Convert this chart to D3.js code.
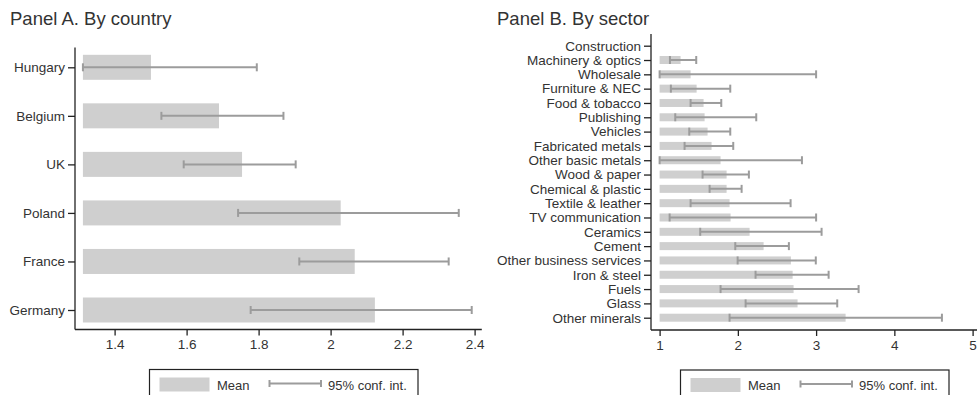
<!DOCTYPE html>
<html>
<head>
<meta charset="utf-8">
<script src="https://cdn.jsdelivr.net/npm/d3@7"></script>
<style>
  html, body { margin: 0; padding: 0; background: #fff; }
  svg { display: block; font-family: "Liberation Sans", Arial, Helvetica, sans-serif; }
</style>
</head>
<body>
<svg id="chart" width="977" height="395"></svg>
<script>
// Panel A: mean and 95% confidence interval by country
const countries = ["Hungary", "Belgium", "UK", "Poland", "France", "Germany"];
const countryMean = [1.501, 1.690, 1.754, 2.028, 2.067, 2.123];
const countryLow  = [1.312, 1.530, 1.592, 1.743, 1.913, 1.778];
const countryHigh = [1.795, 1.869, 1.903, 2.356, 2.328, 2.392];
const countryTicks = [1.4, 1.6, 1.8, 2, 2.2, 2.4];

// Panel B: mean and 95% confidence interval by sector (Construction has no estimate)
const sectors = ["Construction", "Machinery & optics", "Wholesale", "Furniture & NEC",
  "Food & tobacco", "Publishing", "Vehicles", "Fabricated metals", "Other basic metals",
  "Wood & paper", "Chemical & plastic", "Textile & leather", "TV communication",
  "Ceramics", "Cement", "Other business services", "Iron & steel", "Fuels", "Glass",
  "Other minerals"];
const sectorMean = [null, 1.268, 1.396, 1.473, 1.562, 1.575, 1.613, 1.664, 1.779,
  1.856, 1.856, 1.894, 1.907, 2.150, 2.329, 2.678, 2.700, 2.712, 2.763, 3.377];
const sectorLow  = [null, 1.132, 1.000, 1.144, 1.396, 1.200, 1.379, 1.319, 1.000,
  1.549, 1.639, 1.396, 1.128, 1.519, 1.967, 1.997, 2.226, 1.779, 2.099, 1.894];
const sectorHigh = [null, 1.468, 3.000, 1.903, 1.788, 2.235, 1.903, 1.941, 2.819,
  2.141, 2.048, 2.674, 3.000, 3.070, 2.652, 2.996, 3.160, 3.543, 3.270, 4.608];
const sectorTicks = [1, 2, 3, 4, 5];

const legendLabels = ["Mean", "95% conf. int."];

const barColor = "#cfcfcf";
const ciColor = "#9c9c9c";
const axisColor = "#222";
const textColor = "#333";

const svg = d3.select("#chart");

function drawPanel(opts) {
  const g = svg.append("g");
  const x = d3.scaleLinear().domain(opts.xDomain).range(opts.xRange);
  const y = d3.scalePoint().domain(opts.cats).range(opts.yRange);

  const rows = opts.cats.map((c, i) => ({
    cat: c, mean: opts.mean[i], lo: opts.low[i], hi: opts.high[i]
  }));
  const valid = rows.filter(d => d.mean != null);

  // title
  g.append("text")
    .attr("x", opts.titleX).attr("y", 25)
    .attr("font-size", 18.5).attr("fill", textColor)
    .text(opts.title);

  // bars from the base value to the mean
  g.append("g").selectAll("rect").data(valid).join("rect")
    .attr("x", x(opts.base))
    .attr("y", d => y(d.cat) - opts.barH / 2)
    .attr("width", d => x(d.mean) - x(opts.base))
    .attr("height", opts.barH)
    .attr("fill", barColor);

  // confidence intervals
  const ci = g.append("g").attr("stroke", ciColor).attr("stroke-width", 2).attr("fill", "none");
  ci.selectAll("line.span").data(valid).join("line")
    .attr("class", "span")
    .attr("x1", d => x(d.lo)).attr("x2", d => x(d.hi))
    .attr("y1", d => y(d.cat)).attr("y2", d => y(d.cat));
  ["lo", "hi"].forEach(k => {
    ci.selectAll("line.cap-" + k).data(valid).join("line")
      .attr("class", "cap-" + k)
      .attr("x1", d => x(d[k])).attr("x2", d => x(d[k]))
      .attr("y1", d => y(d.cat) - opts.capH / 2)
      .attr("y2", d => y(d.cat) + opts.capH / 2);
  });

  // y axis
  const yAxis = g.append("g")
    .attr("transform", `translate(${opts.xRange[0]},0)`)
    .call(d3.axisLeft(y).tickSize(7).tickPadding(3));
  yAxis.select(".domain").remove();
  yAxis.append("line")
    .attr("x1", 0).attr("x2", 0)
    .attr("y1", opts.axisTop).attr("y2", opts.axisBottom)
    .attr("stroke", axisColor).attr("stroke-width", 1.3);
  yAxis.selectAll(".tick line").attr("stroke", axisColor).attr("stroke-width", 1.3);
  yAxis.selectAll(".tick text")
    .attr("font-size", 13.5).attr("fill", textColor)
    .attr("font-family", "Liberation Sans, Arial, sans-serif");

  // x axis
  const xAxis = g.append("g")
    .attr("transform", `translate(0,${opts.axisBottom})`)
    .call(d3.axisBottom(x).tickValues(opts.ticks).tickFormat(d3.format("")).tickSize(6).tickPadding(4));
  xAxis.select(".domain").remove();
  xAxis.append("line")
    .attr("x1", opts.xRange[0]).attr("x2", opts.xRange[1])
    .attr("y1", 0).attr("y2", 0)
    .attr("stroke", axisColor).attr("stroke-width", 1.3);
  xAxis.selectAll(".tick line").attr("stroke", axisColor).attr("stroke-width", 1.3);
  xAxis.selectAll(".tick text")
    .attr("font-size", 13.5).attr("fill", textColor)
    .attr("font-family", "Liberation Sans, Arial, sans-serif");

  // legend
  const lg = g.append("g").attr("transform", `translate(${opts.legendX},${opts.legendY})`);
  lg.append("rect")
    .attr("x", 0).attr("y", 0).attr("width", 268.5).attr("height", 40)
    .attr("fill", "#fff").attr("stroke", axisColor).attr("stroke-width", 1.2);
  lg.append("rect")
    .attr("x", 10).attr("y", 8).attr("width", 50).attr("height", 14)
    .attr("fill", barColor);
  lg.append("text")
    .attr("x", 67.5).attr("y", 20)
    .attr("font-size", 13).attr("fill", textColor)
    .text(legendLabels[0]);
  const ll = lg.append("g").attr("stroke", ciColor).attr("stroke-width", 2);
  ll.append("line").attr("x1", 120).attr("x2", 171.5).attr("y1", 14).attr("y2", 14);
  ll.append("line").attr("x1", 120).attr("x2", 120).attr("y1", 10.5).attr("y2", 17.5);
  ll.append("line").attr("x1", 171.5).attr("x2", 171.5).attr("y1", 10.5).attr("y2", 17.5);
  lg.append("text")
    .attr("x", 178.5).attr("y", 20)
    .attr("font-size", 13).attr("fill", textColor)
    .text(legendLabels[1]);
}

drawPanel({
  title: "Panel A. By country", titleX: 10,
  cats: countries, mean: countryMean, low: countryLow, high: countryHigh,
  ticks: countryTicks, base: 1.312,
  xDomain: [1.29, 2.42], xRange: [75, 481.8],
  yRange: [67.3, 310], axisTop: 47.5, axisBottom: 329.5,
  barH: 25, capH: 8,
  legendX: 149.5, legendY: 369.5
});

drawPanel({
  title: "Panel B. By sector", titleX: 497,
  cats: sectors, mean: sectorMean, low: sectorLow, high: sectorHigh,
  ticks: sectorTicks, base: 1,
  xDomain: [0.89, 5.06], xRange: [651, 977.3],
  yRange: [45.7, 317.7], axisTop: 34, axisBottom: 330,
  barH: 8, capH: 8,
  legendX: 680.5, legendY: 370
});
</script>
</body>
</html>
